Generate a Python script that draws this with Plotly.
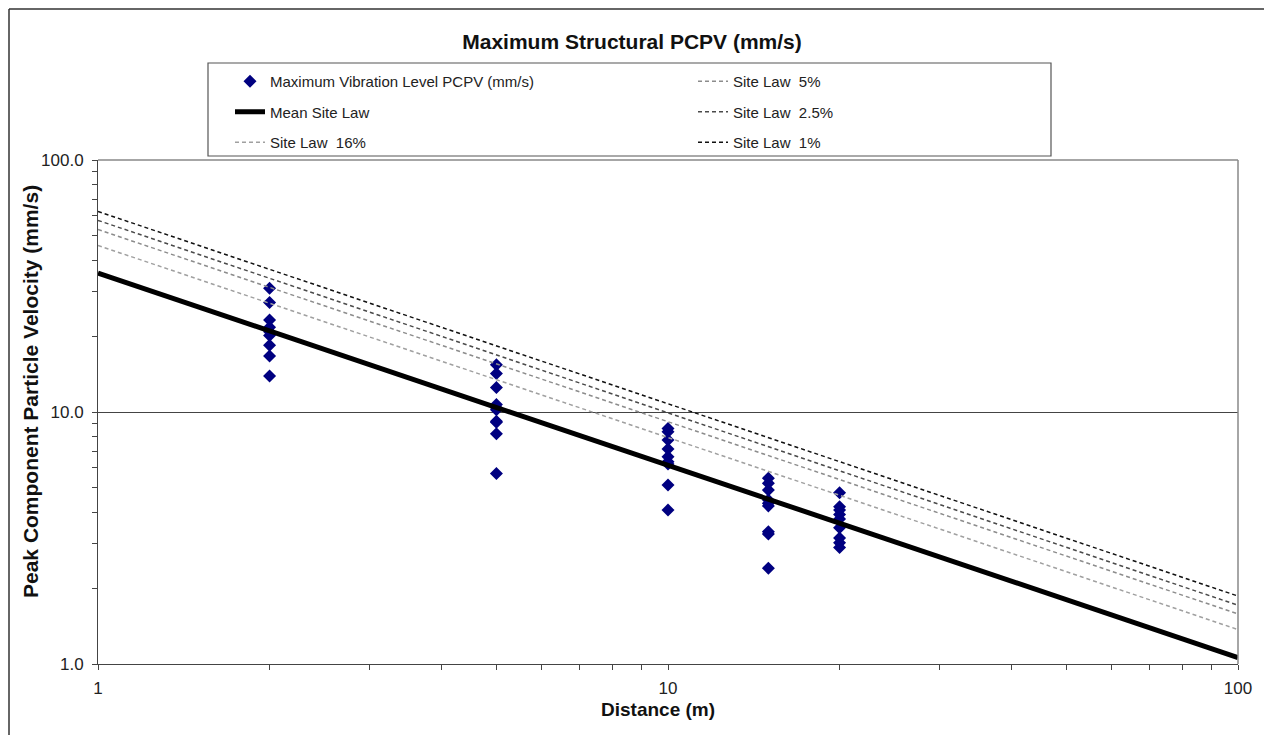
import plotly.graph_objects as go

# ---- data ----
dist_2 = [2] * 9
pcpv_2 = [31.0, 27.2, 23.2, 21.7, 20.8, 20.1, 18.4, 16.7, 13.9]
dist_5 = [5] * 10
pcpv_5 = [15.4, 14.2, 12.5, 10.7, 10.4, 10.2, 9.2, 9.1, 8.2, 5.7]
dist_10 = [10] * 9
pcpv_10 = [8.6, 8.35, 7.74, 7.13, 6.65, 6.35, 6.22, 5.13, 4.08]
dist_15 = [15] * 9
pcpv_15 = [5.46, 5.21, 4.90, 4.48, 4.34, 4.24, 3.35, 3.28, 2.40]
dist_20 = [20] * 9
pcpv_20 = [4.78, 4.21, 4.08, 3.92, 3.76, 3.47, 3.16, 3.03, 2.90]

law_x = [1, 100]
mean_law = [35.6, 1.06]
law_16 = [45.8, 1.37]
law_5 = [53.0, 1.58]
law_2_5 = [57.6, 1.71]
law_1 = [62.5, 1.86]

y_tick_vals = [1, 10, 100]
y_tick_text = ["1.0", "10.0", "100.0"]
x_tick_vals = [1, 10, 100]
x_tick_text = ["1", "10", "100"]
minor_vals = [2, 3, 4, 5, 6, 7, 8, 9, 20, 30, 40, 50, 60, 70, 80, 90]

pts_x = dist_2 + dist_5 + dist_10 + dist_15 + dist_20
pts_y = pcpv_2 + pcpv_5 + pcpv_10 + pcpv_15 + pcpv_20

FONT = "Liberation Sans, Arial, sans-serif"
OFF = 8  # page body margin
W, H = 1272, 735
# plot area in page pixels: x 98..1238, y 160..664
L = 98 - OFF
T = 160 - OFF
R = W - (1238 - OFF)
B = H - (664 - OFF)
PW, PH = W - L - R, H - T - B


def px_x(p):
    return (p - OFF - L) / PW


def px_y(p):
    return (H - B - (p - OFF)) / PH


fig = go.Figure()

fig.add_trace(go.Scatter(
    x=pts_x, y=pts_y, mode="markers", name="Maximum Vibration Level PCPV (mm/s)",
    marker=dict(symbol="diamond", color="#000080", size=10, line=dict(width=0)),
    legend="legend", legendgroup="a", legendrank=1))
fig.add_trace(go.Scatter(
    x=law_x, y=mean_law, mode="lines", name="Mean Site Law",
    line=dict(color="black", width=5), legend="legend", legendgroup="b", legendrank=2))
fig.add_trace(go.Scatter(
    x=law_x, y=law_16, mode="lines", name="Site Law  16%",
    line=dict(color="#a0a0a0", width=1.5, dash="4px,3px"), legend="legend", legendgroup="c", legendrank=3))
fig.add_trace(go.Scatter(
    x=law_x, y=law_5, mode="lines", name="Site Law  5%",
    line=dict(color="#8c8c8c", width=1.5, dash="4px,3px"), legend="legend2", legendgroup="d", legendrank=4))
fig.add_trace(go.Scatter(
    x=law_x, y=law_2_5, mode="lines", name="Site Law  2.5%",
    line=dict(color="#4a4a4a", width=1.5, dash="4px,3px"), legend="legend2", legendgroup="e", legendrank=5))
fig.add_trace(go.Scatter(
    x=law_x, y=law_1, mode="lines", name="Site Law  1%",
    line=dict(color="#111111", width=1.5, dash="4px,3px"), legend="legend2", legendgroup="f", legendrank=6))

legend_common = dict(
    orientation="v", xanchor="left", yanchor="top", bgcolor="rgba(0,0,0,0)",
    borderwidth=0, font=dict(family=FONT, size=15, color="#222"),
    tracegroupgap=8, itemwidth=30)

fig.update_layout(
    width=W, height=H,
    margin=dict(l=L, r=R, t=T, b=B, autoexpand=False),
    paper_bgcolor="white", plot_bgcolor="white",
    font=dict(family=FONT, color="#222"),
    title=dict(text="<b>Maximum Structural PCPV (mm/s)</b>", x=(632 - OFF) / W, xanchor="center",
               y=1 - (42 - OFF) / H, yanchor="middle", font=dict(family=FONT, size=21, color="#111")),
    legend=dict(x=px_x(230), y=px_y(65), **legend_common),
    legend2=dict(x=px_x(693), y=px_y(65), **legend_common),
    xaxis=dict(
        type="log", range=[0, 2], tickmode="array", tickvals=x_tick_vals, ticktext=x_tick_text,
        ticks="outside", ticklen=5, tickcolor="#444", showgrid=False, zeroline=False,
        showline=True, linecolor="#444", linewidth=1, ticklabelstandoff=4,
        tickfont=dict(family=FONT, size=17, color="#222"),
        minor=dict(tickvals=minor_vals, ticks="outside", ticklen=5, tickcolor="#444", showgrid=False)),
    yaxis=dict(
        type="log", range=[0, 2], tickmode="array", tickvals=y_tick_vals, ticktext=y_tick_text,
        ticks="outside", ticklen=5, tickcolor="#444", showgrid=True, gridcolor="#444", gridwidth=1,
        zeroline=False, showline=True, linecolor="#444", linewidth=1, ticklabelstandoff=5,
        tickfont=dict(family=FONT, size=17, color="#222"),
        minor=dict(tickvals=minor_vals, ticks="outside", ticklen=5, tickcolor="#444", showgrid=False)),
    annotations=[
        dict(text="<b>Distance (m)</b>", xref="paper", yref="paper", x=px_x(658), y=px_y(709),
             xanchor="center", yanchor="middle", showarrow=False,
             font=dict(family=FONT, size=19, color="#111")),
        dict(text="<b>Peak Component Particle Velocity (mm/s)</b>", xref="paper", yref="paper",
             x=px_x(30), y=px_y(392), xanchor="center", yanchor="middle", textangle=-90,
             showarrow=False, font=dict(family=FONT, size=21, color="#111")),
    ],
    shapes=[
        # plot-area border (top/right)
        dict(type="line", xref="paper", yref="paper", x0=0, x1=1, y0=1, y1=1,
             line=dict(color="#888", width=1.5)),
        dict(type="line", xref="paper", yref="paper", x0=1, x1=1, y0=0, y1=1,
             line=dict(color="#888", width=1.5)),
        # legend box
        dict(type="rect", xref="paper", yref="paper", x0=px_x(208), x1=px_x(1051),
             y0=px_y(156), y1=px_y(63), line=dict(color="#555", width=1.2), layer="below"),
        # outer chart frame
        dict(type="line", xref="paper", yref="paper", x0=px_x(9), x1=px_x(9), y0=px_y(760), y1=px_y(9),
             line=dict(color="#333", width=1.5)),
        dict(type="line", xref="paper", yref="paper", x0=px_x(9), x1=px_x(1267), y0=px_y(9), y1=px_y(9),
             line=dict(color="#333", width=1.5)),
        dict(type="line", xref="paper", yref="paper", x0=px_x(1267), x1=px_x(1267), y0=px_y(760), y1=px_y(9),
             line=dict(color="#333", width=1.5)),
    ],
)

fig.write_html("out.html")
